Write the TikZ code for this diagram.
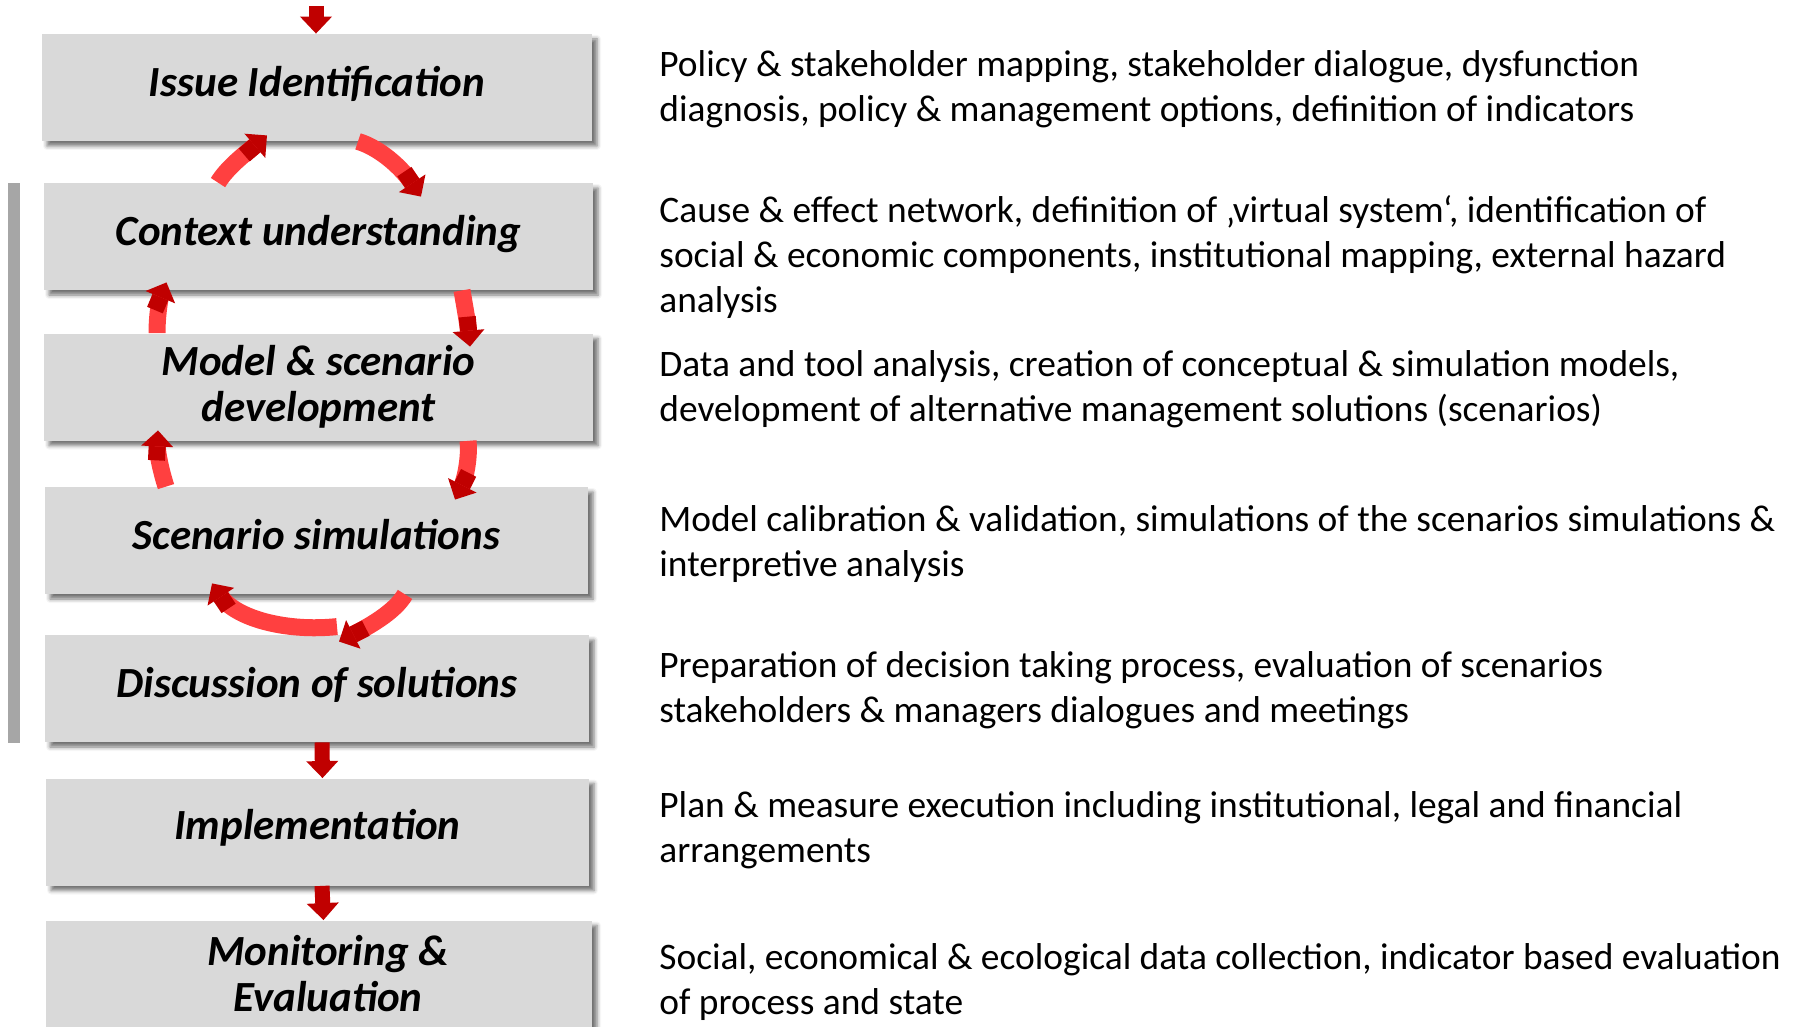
\documentclass[tikz,border=0pt]{standalone}
\usepackage{fontspec}
\setmainfont{Carlito}
\usetikzlibrary{arrows.meta,calc,shadows.blur}
\definecolor{boxgray}{HTML}{D9D9D9}
\definecolor{bargray}{HTML}{A6A6A6}
\definecolor{arrlight}{HTML}{FF4040}
\definecolor{arrdark}{HTML}{C00000}
\newcommand{\titlefont}{\fontsize{21.5}{23}\selectfont\bfseries\itshape}
\newcommand{\descfont}{\fontsize{18.7}{22.5}\selectfont}
\begin{document}
\begin{tikzpicture}[x=0.5pt,y=-0.5pt,
  stage/.style={fill=boxgray, minimum height=53.5pt, inner sep=0pt, align=center, font=\titlefont,
    blur shadow={shadow xshift=2.5pt, shadow yshift=-2.5pt, shadow blur radius=2pt, shadow opacity=55}},
  oneline/.style={text height=14pt, text depth=5.3pt},
  desc/.style={anchor=base west, inner sep=0pt, font=\descfont},
  flow/.style={draw=arrdark, line width=7.5pt, -{Triangle[length=8.5pt,width=15.5pt]}},
  loopar/.style={draw=arrlight, line width=8.5pt,
    -{Square[length=7pt,width=8.5pt,color=arrdark] Triangle[length=8pt,width=15.5pt,color=arrdark]}}
]
\useasboundingbox (0,0) rectangle (1798,1027);

% grey bar
\fill[bargray] (8,183) rectangle (19.5,743);

% stages
\node[stage, oneline, minimum width=275pt] (issue) at (317,87.5) {Issue Identification};
\node[stage, oneline, minimum width=274.5pt] (context) at (318.5,236.5) {Context understanding};
\node[stage, minimum width=274.5pt] (model) at (318.5,387) {Model \& scenario\\development};
\node[stage, oneline, minimum width=271.5pt] (scen) at (316.5,540.5) {Scenario simulations};
\node[stage, oneline, minimum width=272pt] (disc) at (317,688.5) {Discussion of solutions};
\node[stage, text height=14pt, text depth=7pt, minimum width=271.5pt] (impl) at (317.5,832) {Implementation};
\node[stage, minimum width=273pt] (mon) at (319,974) {\hspace*{9pt}Monitoring \&\\\hspace*{9pt}Evaluation};

% straight flow arrows
\coordinate (topin) at (316,6);
\draw[flow] (topin) -- (topin |- issue.north);
\draw[flow] ([xshift=2.5pt]disc.south) -- ([xshift=2.5pt]impl.north);
\draw[flow] ([xshift=2.25pt]impl.south) -- ([xshift=2.25pt]mon.north);

% loop arrows
\draw[loopar] ($(context.north)+(-100.5,0)$) .. controls (228,166) and (250,150) .. ($(issue.south)+(-50,-6)$);
\draw[loopar] ($(issue.south)+(41,0)$) .. controls (380,148) and (402,168) .. ($(context.north)+(102.5,14)$);
\draw[loopar] ($(model.north)+(-161.5,0)$) .. controls (157,315) and (160,298) .. ($(context.south)+(-152,-8)$);
\draw[loopar] ($(context.south)+(143.5,0)$) .. controls (465,308) and (468,325) .. ($(model.north)+(151.5,13.5)$);
\draw[loopar] ($(scen.north)+(-150.5,0)$) .. controls (160,468) and (157,450) .. ($(model.south)+(-160.5,-10.5)$);
\draw[loopar] ($(model.south)+(149.5,0)$) .. controls (470,460) and (464,482) .. ($(scen.north)+(138.5,13)$);
\draw[loopar] ($(disc.north)+(20,-8)$) .. controls (285,632) and (235,618) .. ($(scen.south)+(-104.5,-11)$);
\draw[loopar] ($(scen.south)+(88.5,0)$) .. controls (395,612) and (368,627) .. ($(disc.north)+(22,7)$);

% descriptions
\node[desc] (d1) at (659,77) {\vtop{\hbox{Policy \& stakeholder mapping, stakeholder dialogue, dysfunction}\hbox{diagnosis, policy \& management options, definition of indicators}}};
\node[desc] (d2) at (659,223) {\vtop{\hbox{Cause \& effect network, definition of ‚virtual system‘, identification of}\hbox{social \& economic components, institutional mapping, external hazard}\hbox{analysis}}};
\node[desc] (d3) at (659,376) {\vtop{\hbox{Data and tool analysis, creation of conceptual \& simulation models,}\hbox{development of alternative management solutions (scenarios)}}};
\node[desc] (d4) at (659,531) {\vtop{\hbox{Model calibration \& validation, simulations of the scenarios simulations \&}\hbox{interpretive analysis}}};
\node[desc] (d5) at (659,677) {\vtop{\hbox{Preparation of decision taking process, evaluation of scenarios}\hbox{stakeholders \& managers dialogues and meetings}}};
\node[desc] (d6) at (659,817) {\vtop{\hbox{Plan \& measure execution including institutional, legal and financial}\hbox{arrangements}}};
\node[desc] (d7) at (659,969) {\vtop{\hbox{Social, economical \& ecological data collection, indicator based evaluation}\hbox{of process and state}}};
\end{tikzpicture}
\end{document}
